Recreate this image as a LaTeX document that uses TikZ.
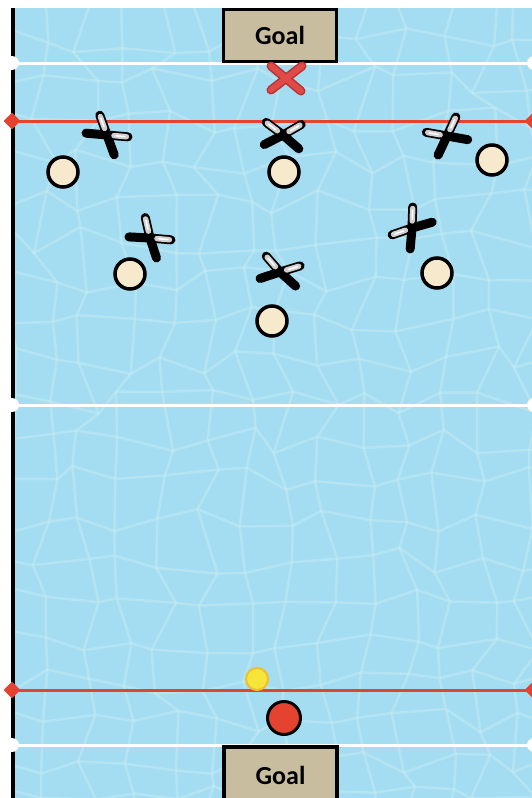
\documentclass[tikz,border=0pt]{standalone}
\usepackage{fontspec}
\setmainfont{Carlito}
\usetikzlibrary{shapes.geometric}
\definecolor{pool}{HTML}{A4DDF2}
\definecolor{ripple}{HTML}{CDEFF4}
\definecolor{goaltan}{HTML}{C9BD9F}
\definecolor{lanered}{HTML}{E3432F}
\definecolor{cream}{HTML}{F6E9CC}
\definecolor{ballyel}{HTML}{F8E53A}
\definecolor{ballrim}{HTML}{F2BE2A}
\definecolor{silver}{HTML}{CFCFCF}
\definecolor{xred}{HTML}{E04A48}
\definecolor{xdark}{HTML}{B53432}
\tikzset{
  goal/.style={draw,line width=3.5pt,fill=goaltan,minimum width=113pt,minimum height=52pt,inner sep=0pt,font=\fontsize{26}{30}\selectfont\bfseries},
  player/.style={circle,draw,line width=3.5pt,fill=cream,minimum size=30pt,inner sep=0pt},
  wdot/.style={circle,fill=white,minimum size=14pt,inner sep=0pt},
  rdiam/.style={diamond,fill=lanered,minimum size=17pt,inner sep=0pt},
  whiteline/.style={white,line width=3pt},
  redline/.style={lanered,line width=3pt},
  armblack/.style={black,line width=9pt,line cap=round},
  armsilver/.style={silver,line width=5.5pt,line cap=round},
  xarm/.style={xdark,line width=9pt,line cap=round},
  xarmin/.style={xred,line width=6pt,line cap=round},
  pics/defender/.style n args={4}{code={
    \foreach \a in {#3,#4} \draw[armblack] (0,0) -- (\a:21);
    \foreach \a in {#1,#2} {
      \draw[armblack] (0,0) -- (\a:21);
      \draw[armsilver] (\a:7) -- (\a:19.5);
      \draw[white,line width=1.5pt,line cap=round] (\a:9) -- (\a:18);
    }
  }},
}

\begin{document}
\begin{tikzpicture}[x=1pt,y=-1pt]
  \useasboundingbox (0,0) rectangle (532,798);
  % water
  \fill[pool] (13,8) rectangle (532,798);
  \begin{scope}
    \clip (13,8) rectangle (532,798);
    \pgfmathsetseed{17}
    \foreach \i in {0,...,14}{
      \foreach \j in {0,...,21}{
        \pgfmathsetmacro\px{5+40*\i+14*rand}
        \pgfmathsetmacro\py{0+40*\j+14*rand}
        \coordinate (c-\i-\j) at (\px,\py);
      }
    }
    \foreach \i [evaluate=\i as \ni using int(\i+1)] in {0,...,13}{
      \foreach \j in {0,...,21}{
        \draw[ripple,opacity=.4,line width=2.5pt] (c-\i-\j) -- (c-\ni-\j);
      }
    }
    \foreach \i in {0,...,14}{
      \foreach \j [evaluate=\j as \nj using int(\j+1)] in {0,...,20}{
        \draw[ripple,opacity=.4,line width=2.5pt] (c-\i-\j) -- (c-\i-\nj);
      }
    }
  \end{scope}
  % side line
  \coordinate (sideT) at (13,8);
  \coordinate (sideB) at (13,798);
  \draw[black,line width=4pt] (sideT) -- (sideB);
  % markers
  \node[wdot] (wtopL) at (12,63) {};
  \node[wdot] (wtopR) at (534,63) {};
  \node[rdiam] (rtopL) at (12,121) {};
  \node[rdiam] (rtopR) at (533,121) {};
  \node[wdot] (wmidL) at (12,405) {};
  \node[wdot] (wmidR) at (534,405) {};
  \node[rdiam] (rbotL) at (12,690) {};
  \node[rdiam] (rbotR) at (533,690) {};
  \node[wdot] (wbotL) at (12,745) {};
  \node[wdot] (wbotR) at (534,745) {};
  \draw[whiteline] (wtopL.center) -- (wtopR.center);
  \draw[redline] (rtopL.center) -- (rtopR.center);
  \draw[whiteline] (wmidL.center) -- (wmidR.center);
  \draw[redline] (rbotL.center) -- (rbotR.center);
  \draw[whiteline] (wbotL.center) -- (wbotR.center);
  % goals
  \node[goal] (goaltop) at (280,35.5) {Goal};
  \node[goal,minimum height=56pt] (goalbot) at (280.5,775) {Goal};
  % keeper mark
  \coordinate (xa) at (271,66);
  \coordinate (xb) at (301,91);
  \coordinate (xc) at (302,66);
  \coordinate (xd) at (271,90);
  \draw[xarm] (xa) -- (xb);
  \draw[xarm] (xc) -- (xd);
  \draw[xarmin] (xa) -- (xb);
  \draw[xarmin] (xc) -- (xd);
  % attackers
  \node[player] (p1) at (63,172) {};
  \node[player] (p2) at (284,172) {};
  \node[player] (p3) at (492,160) {};
  \node[player] (p4) at (130,274) {};
  \node[player] (p5) at (437,273) {};
  \node[player] (p6) at (272,321) {};
  % defenders
  \pic at (107,135) {defender={-110}{5}{70}{185}};
  \pic at (283,135) {defender={-143}{-30}{41}{153}};
  \pic at (447,136) {defender={-65}{190}{115}{10}};
  \pic at (150,238) {defender={-103}{5}{72}{183}};
  \pic at (280,272) {defender={-131}{-17}{42}{162}};
  \pic at (412,228) {defender={-88}{161}{95}{-16}};
  % balls
  \node[circle,draw=ballrim,line width=2pt,fill=ballyel,minimum size=22pt,inner sep=0pt] (yball) at (257,679) {};
  \node[circle,draw,line width=3pt,fill=lanered,minimum size=33pt,inner sep=0pt] (rball) at (284,718) {};
\end{tikzpicture}
\end{document}
